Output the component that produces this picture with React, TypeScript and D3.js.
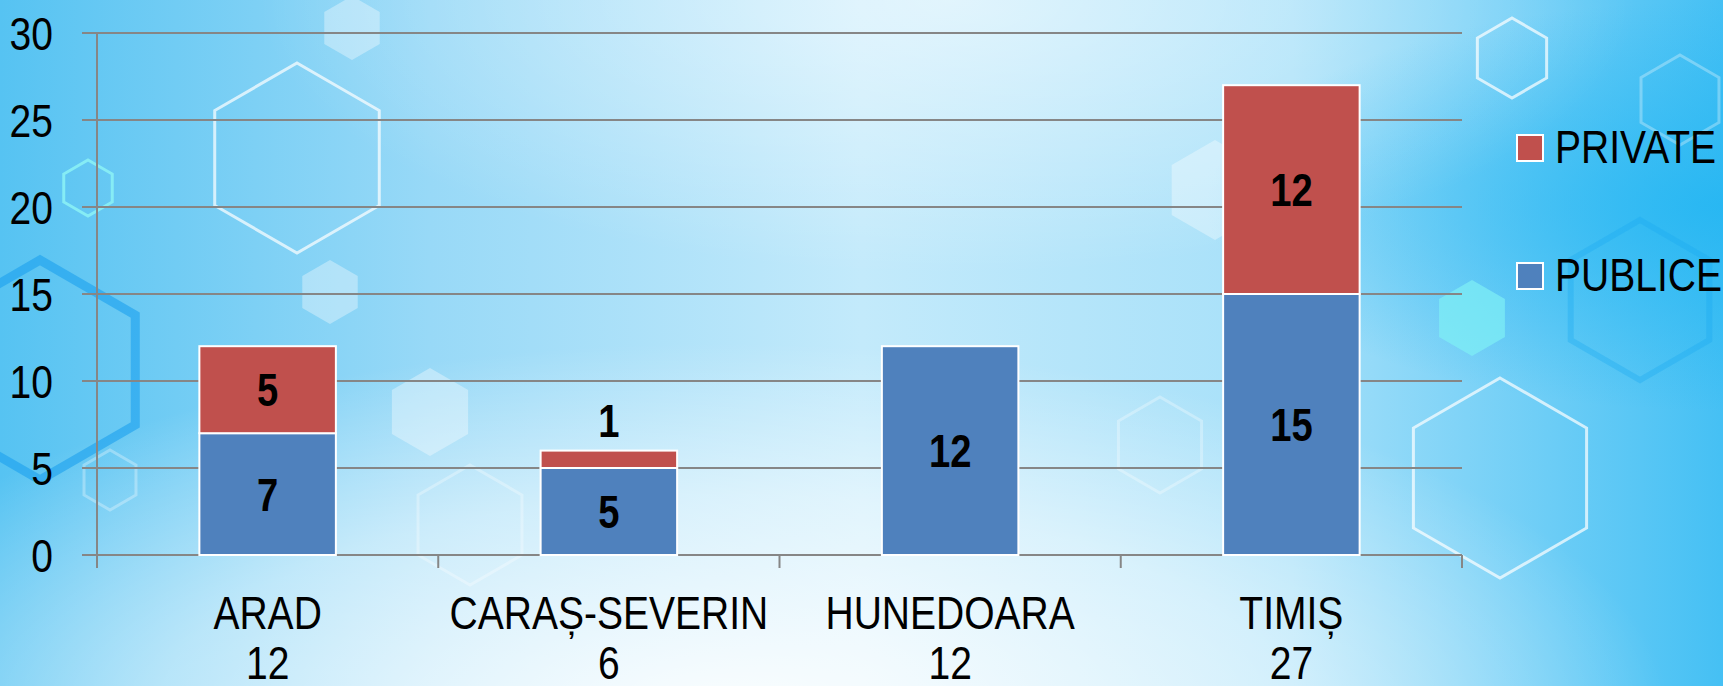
import React from 'react';
import * as d3 from 'd3';

const categories = ['ARAD', 'CARAȘ-SEVERIN', 'HUNEDOARA', 'TIMIȘ'];
const totals = ['12', '6', '12', '27'];
const publice = [7, 5, 12, 15];
const privat = [5, 1, 0, 12];
const yTicks = [0, 5, 10, 15, 20, 25, 30];
const seriesNames = ['PRIVATE', 'PUBLICE'];

const W = 1723;
const H = 686;
const FONT = '"Liberation Sans", Arial, sans-serif';
const NARROW = 0.83; // squeeze to look like Arial Narrow
const BLUE = '#4F81BD';
const RED = '#C0504D';

// background hexagons (decoration only): cx, cy, r, kind
const hexes: [number, number, number, string][] = [
  [297, 158, 95, 'line'],
  [88, 188, 28, 'cyan'],
  [330, 292, 32, 'fill'],
  [430, 412, 44, 'fill'],
  [352, 28, 32, 'fill'],
  [1500, 478, 100, 'line'],
  [1472, 318, 38, 'cyanfill'],
  [1512, 58, 40, 'line'],
  [40, 370, 110, 'blue'],
  [470, 525, 60, 'faint'],
  [1215, 190, 50, 'fill'],
  [1160, 445, 48, 'faint'],
  [1680, 100, 45, 'faint'],
  [110, 480, 30, 'faint'],
  [1640, 300, 80, 'blue2'],
];

const hexPath = (cx: number, cy: number, r: number) => {
  const pts = d3.range(6).map(i => {
    const a = (Math.PI / 3) * i - Math.PI / 2;
    return [cx + r * Math.cos(a), cy + r * Math.sin(a)];
  });
  return 'M' + pts.map(p => p.join(',')).join('L') + 'Z';
};

const hexStyle = (kind: string) => {
  switch (kind) {
    case 'line':
      return { fill: 'none', stroke: '#ffffff', strokeWidth: 3, opacity: 0.7 };
    case 'cyan':
      return { fill: 'none', stroke: '#8ff5f5', strokeWidth: 3, opacity: 0.8 };
    case 'fill':
      return { fill: '#ffffff', stroke: 'none', opacity: 0.35 };
    case 'cyanfill':
      return { fill: '#7ff0f5', stroke: 'none', opacity: 0.7 };
    case 'blue':
      return { fill: 'none', stroke: '#1aa0ee', strokeWidth: 9, opacity: 0.6 };
    case 'blue2':
      return { fill: 'none', stroke: '#19a8f0', strokeWidth: 6, opacity: 0.35 };
    default:
      return { fill: 'none', stroke: '#ffffff', strokeWidth: 3, opacity: 0.3 };
  }
};

type LabelProps = {
  x: number;
  y: number;
  anchor?: 'start' | 'middle' | 'end';
  size?: number;
  bold?: boolean;
  dy?: string | number;
  children: React.ReactNode;
};

const Label = ({ x, y, anchor = 'middle', size = 47, bold = false, dy = 0, children }: LabelProps) => (
  <g transform={`translate(${x},${y}) scale(${NARROW},1)`}>
    <text textAnchor={anchor} fontSize={size} fontWeight={bold ? 'bold' : 'normal'} dy={dy} fill="#000">
      {children}
    </text>
  </g>
);

export default function App() {
  const margin = { top: 33, right: 261, bottom: 131, left: 97 };
  const x = d3
    .scaleBand<string>()
    .domain(categories)
    .range([margin.left, W - margin.right])
    .paddingInner(0.6)
    .paddingOuter(0.3);
  const y = d3.scaleLinear().domain([0, 30]).range([H - margin.bottom, margin.top]);

  const stack = d3
    .stack<number>()
    .keys(['publice', 'privat'])
    .value((i, key) => (key === 'publice' ? publice[i] : privat[i]));
  const layers = stack(d3.range(categories.length));
  const colors = [BLUE, RED];

  const x0 = margin.left;
  const x1 = W - margin.right;
  const y0 = y(0);
  const step = x.step();
  const tickXs = d3.range(categories.length + 1).map(i => x.range()[0] + i * step);

  return (
    <div style={{ position: 'absolute', left: 0, top: 0 }}>
      <svg width={W} height={H} style={{ display: 'block' }} fontFamily={FONT}>
        <defs>
          <linearGradient id="bg" x1="0" y1="0" x2="1" y2="0">
            <stop offset="0" stopColor="#56c3f2" />
            <stop offset="0.25" stopColor="#98d9f7" />
            <stop offset="0.5" stopColor="#c3eafb" />
            <stop offset="0.75" stopColor="#a6e0f9" />
            <stop offset="1" stopColor="#45c0f4" />
          </linearGradient>
          <radialGradient id="glow" cx="0.42" cy="1.05" r="0.55">
            <stop offset="0" stopColor="#ffffff" stopOpacity="0.95" />
            <stop offset="0.6" stopColor="#ffffff" stopOpacity="0.5" />
            <stop offset="1" stopColor="#ffffff" stopOpacity="0" />
          </radialGradient>
          <radialGradient id="glow2" cx="0.55" cy="0" r="0.4">
            <stop offset="0" stopColor="#ffffff" stopOpacity="0.55" />
            <stop offset="1" stopColor="#ffffff" stopOpacity="0" />
          </radialGradient>
          <radialGradient id="blueRight" cx="1" cy="0.3" r="0.3">
            <stop offset="0" stopColor="#21b5f2" stopOpacity="0.8" />
            <stop offset="1" stopColor="#21b5f2" stopOpacity="0" />
          </radialGradient>
        </defs>

        {/* background */}
        <rect width={W} height={H} fill="url(#bg)" />
        <rect width={W} height={H} fill="url(#blueRight)" />
        <rect width={W} height={H} fill="url(#glow2)" />
        <rect width={W} height={H} fill="url(#glow)" />
        {hexes.map(([cx, cy, r, kind], i) => (
          <path key={'h' + i} d={hexPath(cx, cy, r)} {...hexStyle(kind)} />
        ))}

        {/* gridlines */}
        {yTicks.map(t => (
          <line key={'g' + t} x1={x0 - 15} x2={x1} y1={y(t)} y2={y(t)} stroke="#868686" strokeWidth={2} />
        ))}
        {/* y axis line */}
        <line x1={x0} x2={x0} y1={y(30)} y2={y0 + 13} stroke="#868686" strokeWidth={2} />
        {/* category ticks */}
        {tickXs.map((tx, i) => (
          <line key={'t' + i} x1={tx} x2={tx} y1={y0} y2={y0 + 13} stroke="#868686" strokeWidth={2} />
        ))}

        {/* y labels */}
        {yTicks.map(t => (
          <Label key={'yl' + t} x={53} y={y(t)} dy="0.36em" anchor="end">
            {t}
          </Label>
        ))}

        {/* bars */}
        {layers.map((layer, li) =>
          layer.map((d, i) => {
            const h = y(d[0]) - y(d[1]);
            if (h <= 0) return null;
            return (
              <rect
                key={'b' + li + '-' + i}
                x={x(categories[i])}
                y={y(d[1])}
                width={x.bandwidth()}
                height={h}
                fill={colors[li]}
                stroke="#ffffff"
                strokeWidth={2}
              />
            );
          })
        )}

        {/* data labels */}
        {layers.map((layer, li) =>
          layer.map((d, i) => {
            const v = d[1] - d[0];
            if (v <= 0) return null;
            const h = y(d[0]) - y(d[1]);
            const cx = (x(categories[i]) as number) + x.bandwidth() / 2;
            const small = h < 40;
            return (
              <Label
                key={'l' + li + '-' + i}
                x={cx}
                y={small ? y(d[1]) - 14 : (y(d[0]) + y(d[1])) / 2}
                dy={small ? 0 : '0.36em'}
                size={46}
                bold
              >
                {v}
              </Label>
            );
          })
        )}

        {/* category labels */}
        {categories.map((c, i) => {
          const cx = (x(c) as number) + x.bandwidth() / 2;
          return (
            <g key={'c' + c}>
              <Label x={cx} y={629}>{c}</Label>
              <Label x={cx} y={679}>{totals[i]}</Label>
            </g>
          );
        })}

        {/* legend */}
        {seriesNames.map((s, i) => (
          <g key={'lg' + s} transform={`translate(1517, ${135 + i * 128})`}>
            <rect width={26} height={26} fill={i === 0 ? RED : BLUE} stroke="#ffffff" strokeWidth={2} />
            <Label x={38} y={28} anchor="start">{s}</Label>
          </g>
        ))}
      </svg>
    </div>
  );
}
